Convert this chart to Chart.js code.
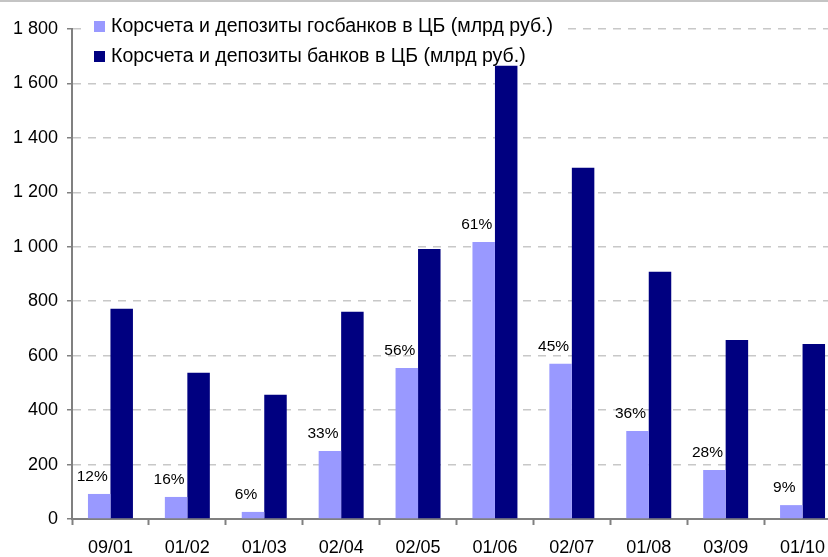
<!DOCTYPE html>
<html>
<head>
<meta charset="utf-8">
<script src="https://cdn.jsdelivr.net/npm/chart.js@4/dist/chart.umd.min.js"></script>
<style>
  html, body { margin: 0; padding: 0; background: #fff; overflow: hidden; }
  body { width: 828px; height: 557px; position: relative; }
  #topline { position: absolute; left: 0; top: 0; width: 828px; height: 2px; background: #c4c4c4; }
  #wrap { position: absolute; left: 0; top: 0; width: 841px; height: 557px; }
</style>
</head>
<body>
<div id="wrap"><canvas id="corrChart" width="841" height="557"></canvas></div>
<div id="topline"></div>
<script>
const categories = ['09/01', '01/02', '01/03', '02/04', '02/05', '01/06', '02/07', '01/08', '03/09', '01/10'];
const stateBanks = [92, 81, 26, 250, 555, 1018, 570, 323, 180, 51];
const allBanks = [772, 537, 456, 761, 992, 1665, 1290, 908, 658, 643];
const stateShare = [12, 16, 6, 33, 56, 61, 45, 36, 28, 9];
const seriesNames = [
    'Корсчета и депозиты госбанков в ЦБ (млрд руб.)',
    'Корсчета и депозиты банков в ЦБ (млрд руб.)'
];
const colors = ['#9999ff', '#000080'];

const fontFamily = '"Liberation Sans", Arial, sans-serif';

// percent labels over the light bars
const shareLabels = {
    id: 'shareLabels',
    afterDatasetsDraw(chart) {
        const ctx = chart.ctx;
        const meta = chart.getDatasetMeta(0);
        ctx.save();
        ctx.font = '15.5px ' + fontFamily;
        ctx.fillStyle = '#000';
        ctx.textAlign = 'center';
        ctx.textBaseline = 'middle';
        meta.data.forEach(function(bar, i) {
            ctx.fillText(stateShare[i] + '%', bar.x - 7, bar.y - 17);
        });
        ctx.restore();
    }
};

// legend box in the top left of the plot
const boxLegend = {
    id: 'boxLegend',
    afterDraw(chart) {
        const ctx = chart.ctx;
        ctx.save();
        ctx.fillStyle = '#fff';
        ctx.fillRect(84, 9, 478, 55);
        ctx.font = '20px ' + fontFamily;
        const scaleX = 442 / ctx.measureText(seriesNames[0]).width;
        seriesNames.forEach(function(name, i) {
            const base = 32 + i * 30;
            ctx.fillStyle = colors[i];
            ctx.fillRect(94, base - 11, 11, 11);
            ctx.save();
            ctx.translate(111, base);
            ctx.scale(scaleX, 1);
            ctx.fillStyle = '#000';
            ctx.textBaseline = 'alphabetic';
            ctx.fillText(name, 0, 0);
            ctx.restore();
        });
        ctx.restore();
    }
};

new Chart(document.getElementById('corrChart'), {
    type: 'bar',
    data: {
        labels: categories,
        datasets: [{
            label: seriesNames[0],
            data: stateBanks,
            backgroundColor: colors[0]
        }, {
            label: seriesNames[1],
            data: allBanks,
            backgroundColor: colors[1]
        }]
    },
    options: {
        responsive: false,
        animation: false,
        datasets: {
            bar: { categoryPercentage: 0.585, barPercentage: 1.0 }
        },
        layout: { padding: { top: 29, left: 0, right: 0, bottom: 0 } },
        plugins: {
            legend: { display: false },
            tooltip: { enabled: false }
        },
        scales: {
            x: {
                afterFit: function(s) { s.height = 38; },
                grid: {
                    display: true,
                    offset: true,
                    drawOnChartArea: false,
                    drawTicks: true,
                    tickLength: 6,
                    tickColor: '#808080',
                    tickWidth: 2
                },
                border: { color: '#808080', width: 2 },
                ticks: {
                    color: '#000',
                    padding: 12,
                    maxRotation: 0,
                    font: { family: fontFamily, size: 18 }
                }
            },
            y: {
                min: 0,
                max: 1800,
                afterFit: function(s) { s.width = 72; },
                grid: {
                    color: function(c) { return c.tick && c.tick.value === 0 ? 'rgba(0,0,0,0)' : '#c8c8c8'; },
                    lineWidth: 1.5,
                    tickLength: 5,
                    tickColor: '#808080',
                    tickWidth: 1.5
                },
                border: { color: '#808080', width: 2, dash: [8, 7] },
                ticks: {
                    stepSize: 200,
                    color: '#000',
                    padding: 9,
                    font: { family: fontFamily, size: 18 },
                    callback: function(v) {
                        return String(v).replace(/\B(?=(\d{3})+(?!\d))/g, ' ');
                    }
                }
            }
        }
    },
    plugins: [shareLabels, boxLegend]
});
</script>
</body>
</html>
